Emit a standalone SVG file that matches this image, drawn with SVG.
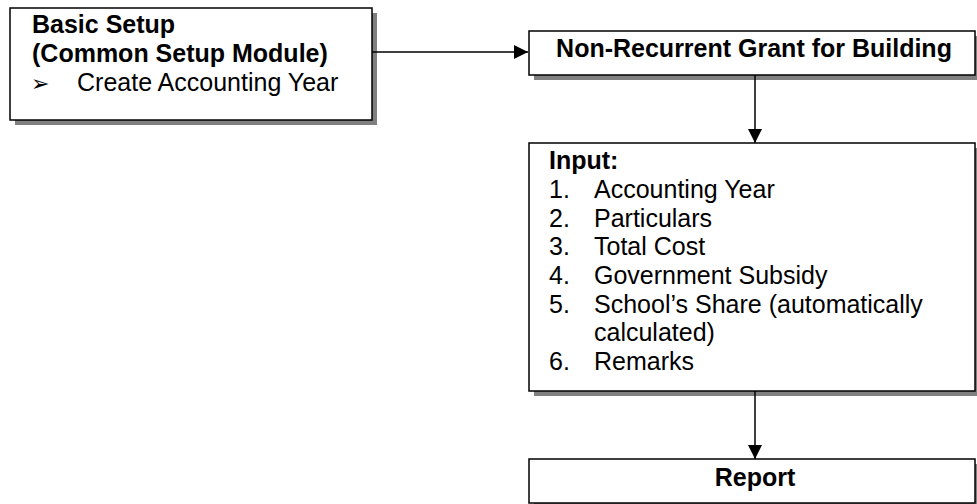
<svg xmlns="http://www.w3.org/2000/svg" width="977" height="504" viewBox="0 0 977 504">
<defs>
<style>
.box{fill:#fff;stroke:#000;stroke-width:1.5}
.shadow{fill:#808080}
.b{font-family:"Liberation Sans",Arial,sans-serif;font-size:25px;font-weight:bold;fill:#000}
.n{font-family:"Liberation Sans",Arial,sans-serif;font-size:25px;fill:#000}
.edge{stroke:#000;stroke-width:1.5;fill:none}
</style>
<marker id="ah" markerWidth="14" markerHeight="14" viewBox="0 0 14 14" refX="14" refY="7" orient="auto" markerUnits="userSpaceOnUse">
<path d="M0,0 L14,7 L0,14 Z" fill="#000"/>
</marker>
</defs>
<rect width="977" height="504" fill="#fff"/>
<g id="basic-setup">
<rect class="shadow" x="15" y="13" width="362" height="112"/>
<rect class="box" x="10" y="8" width="362" height="112"/>
<text class="b" x="32" y="33">Basic Setup</text>
<text class="b" x="32" y="62">(Common Setup Module)</text>
<text x="31" y="91" font-family="DejaVu Sans,sans-serif" font-size="22" fill="#000">➢</text>
<text class="n" x="77" y="91">Create Accounting Year</text>
</g>
<g id="grant">
<rect class="shadow" x="534" y="36" width="446" height="44"/>
<rect class="box" x="529" y="31" width="446" height="44"/>
<text class="b" x="754" y="57" text-anchor="middle">Non-Recurrent Grant for Building</text>
</g>
<g id="input">
<rect class="shadow" x="534" y="148" width="446" height="248"/>
<rect class="box" x="529" y="143" width="446" height="248"/>
<text class="b" x="549" y="169">Input:</text>
<g class="n">
<text x="549" y="198">1.</text><text x="594" y="198">Accounting Year</text>
<text x="549" y="227">2.</text><text x="594" y="227">Particulars</text>
<text x="549" y="255">3.</text><text x="594" y="255">Total Cost</text>
<text x="549" y="284">4.</text><text x="594" y="284">Government Subsidy</text>
<text x="549" y="313">5.</text><text x="594" y="313">School’s Share (automatically</text>
<text x="594" y="341">calculated)</text>
<text x="549" y="370">6.</text><text x="594" y="370">Remarks</text>
</g>
</g>
<g id="report">
<rect class="shadow" x="534" y="464" width="446" height="44"/>
<rect class="box" x="529" y="459" width="446" height="44"/>
<text class="b" x="755" y="486" text-anchor="middle">Report</text>
</g>
<g id="connectors">
<line class="edge" x1="372" y1="52" x2="528" y2="52" marker-end="url(#ah)"/>
<line class="edge" x1="755" y1="75" x2="755" y2="143" marker-end="url(#ah)"/>
<line class="edge" x1="755" y1="391" x2="755" y2="459" marker-end="url(#ah)"/>
</g>
</svg>
